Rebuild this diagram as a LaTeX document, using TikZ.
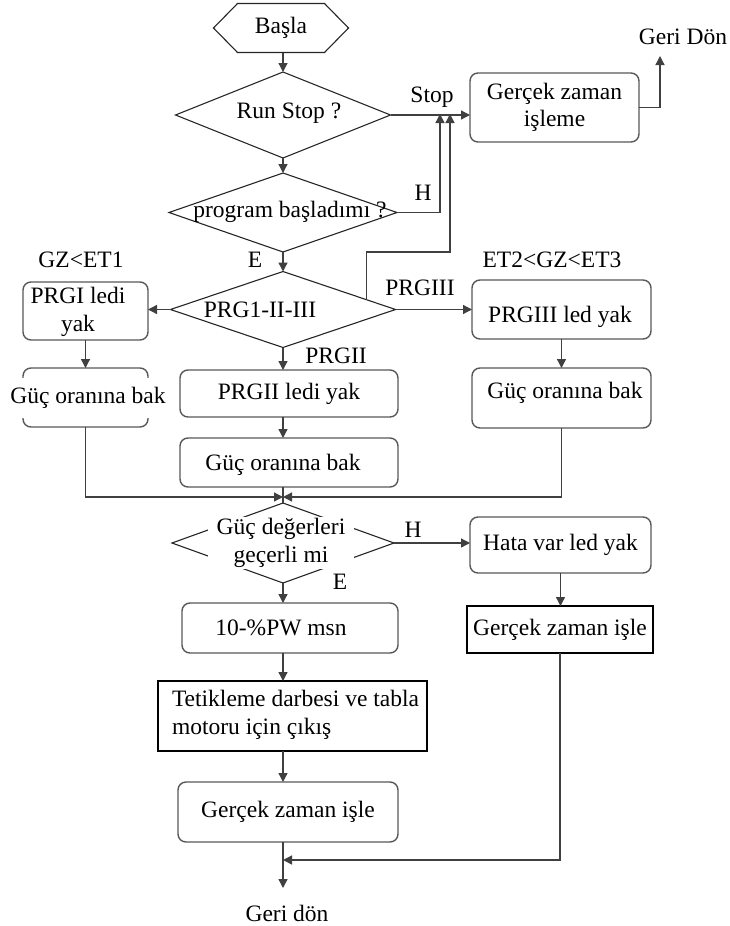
\documentclass[tikz,border=0pt]{standalone}
\usepackage{fontspec}
\setmainfont{Liberation Serif}
\usetikzlibrary{shapes.geometric,arrows.meta,calc}
\begin{document}
\begin{tikzpicture}[x=1pt,y=-1pt,
  every node/.style={font=\fontsize{23.5}{27.5}\selectfont, inner sep=0pt, outer sep=0pt},
  rbox/.style={draw=black!65, line width=1.4pt, rounded corners=8pt},
  sbox/.style={draw=black, line width=1.4pt},
  dia/.style={diamond, draw=black!85, line width=1.1pt},
  txt/.style={align=center},
  conn/.style={draw=black!75, line width=1.3pt},
  arr/.style={conn, -{Triangle[length=9pt,width=9pt]}},
]
\useasboundingbox[fill=white] (0,0) rectangle (729,926);

% start
\node[minimum width=135pt, minimum height=49pt] (basla) at (281,28) {Başla};
\draw[line width=1.1pt, draw=black!85] (basla.west) -- ($(basla.north west)+(24,0)$) -- ($(basla.north east)+(-24,0)$) -- (basla.east) -- ($(basla.south east)+(-24,0)$) -- ($(basla.south west)+(24,0)$) -- cycle;

% run stop
\node[dia, minimum width=215pt, minimum height=86pt] (runstop) at (283,115) {};
\node (runstopt) at (289,113) {Run Stop\hspace{6pt}?};

\node[rbox, txt, minimum width=169pt, minimum height=69pt] (gzi) at (554.5,107.5) {Gerçek zaman\\işleme};

% program started
\node[dia, minimum width=228pt, minimum height=79pt] (prog) at (283,212.5) {};
\node (progt) at (290,212) {program başladımı ?};

% PRG select
\node[dia, minimum width=225pt, minimum height=76pt] (prg) at (283,309.5) {};
\node (prgt) at (260,310) {PRG1-II-III};

\node[rbox, minimum width=125pt, minimum height=58pt] (prgi) at (85.5,311) {};
\node[txt] (prgit) at (78,312) {PRGI ledi\\yak};
\node[rbox, minimum width=179pt, minimum height=59pt] (prgiii) at (561.5,309.5) {};
\node (prgiiit) at (560,317) {PRGIII led yak};
\node[rbox, minimum width=218pt, minimum height=47pt] (prgii) at (289,393.5) {PRGII ledi yak};

\node[rbox, minimum width=125pt, minimum height=59pt] (guc1) at (85.5,397.5) {};
\node[fill=white, minimum height=40pt, inner xsep=1pt] (guc1t) at (88,398) {Güç oranına bak};
\node[rbox, minimum width=218pt, minimum height=49pt] (guc2) at (289,462.5) {};
\node (guc2t) at (283,465) {Güç oranına bak};
\node[rbox, minimum width=179pt, minimum height=60pt] (guc3) at (561.5,398) {};
\node (guc3t) at (565,393) {Güç oranına bak};

% power check
\node[dia, minimum width=222pt, minimum height=80pt] (gdiam) at (283,543) {};
\node[txt, fill=white, minimum width=146pt, minimum height=52pt] (gdiamt) at (281,543) {Güç değerleri\\geçerli mi};

\node[rbox, minimum width=181pt, minimum height=56pt] (hata) at (560.5,545) {Hata var led yak};
\node[sbox, minimum width=186pt, minimum height=47pt] (gzi2) at (560,629.5) {Gerçek zaman işle};

\node[rbox, minimum width=216pt, minimum height=50pt] (pw) at (290,628) {};
\node (pwt) at (281,628) {10-\%PW msn};

\node[sbox, minimum width=269pt, minimum height=70pt] (tet) at (292.5,716) {};
\node[align=left, anchor=west] (tett) at (172,715) {Tetikleme darbesi ve tabla\\motoru için çıkış};

\node[rbox, minimum width=220pt, minimum height=60pt] (gzi3) at (288,812) {Gerçek zaman işle};

% labels
\node (stopl) at (432,97) {Stop};
\node[anchor=east] (geridon1) at (727,37) {Geri Dön};
\node (hl1) at (423,193) {H};
\node (el1) at (255,260) {E};
\node (gzet1) at (81,260) {GZ<ET1};
\node (et2) at (552,260) {ET2<GZ<ET3};
\node (prgiiil) at (420,288) {PRGIII};
\node (prgiil) at (336,356) {PRGII};
\node (hl2) at (413,530) {H};
\node (el2) at (340,582) {E};
\node (geridon2) at (287,913) {Geri dön};

% coordinates
\coordinate (gdtip) at (660,56);
\coordinate (hin) at (440,114);
\coordinate (loopa) at ($(prg.north)!0.74!(prg.east)$);
\coordinate (loopc) at (450,252);
\coordinate (loopb) at (450,114);
\coordinate (mrg) at (283,497);
\coordinate (mrg2) at (283,860);
\coordinate (endp) at (283,888);

% connectors
\draw[arr] (runstop.north |- basla.south) -- (runstop.north);
\draw[arr] (runstop.east) -- (gzi.west |- runstop.east);
\draw[arr] (gzi.east) -| (gdtip);
\draw[arr] (runstop.south) -- (prog.north);
\draw[arr] (prog.east) -| (hin);
\draw[arr] (prog.south) -- (prg.north);
\draw[arr] (loopa) |- (loopc) -- (loopb);
\draw[arr] (prg.west) -- (prgi.east |- prg.west);
\draw[arr] (prg.east) -- (prgiii.west |- prg.east);
\draw[arr] (prg.south) -- (prg.south |- prgii.north);
\draw[arr] (prgi.south) -- (guc1.north);
\draw[arr] (prgiii.south) -- (guc3.north);
\draw[arr] (prg.south |- prgii.south) -- (prg.south |- guc2.north);
\draw[arr] (guc1.south) |- (mrg);
\draw[arr] (guc3.south) |- (mrg);
\draw[conn] (prg.south |- guc2.south) -- (gdiam.north);
\draw[arr] (gdiam.east) -- (hata.west |- gdiam.east);
\draw[arr] (gdiam.south) -- (gdiam.south |- pw.north);
\draw[arr] (gdiam.south |- pw.south) -- (gdiam.south |- tet.north);
\draw[arr] (gdiam.south |- tet.south) -- (gdiam.south |- gzi3.north);
\draw[arr] (gdiam.south |- gzi3.south) -- (endp);
\draw[arr] (hata.south) -- (hata.south |- gzi2.north);
\draw[arr] (gzi2.south) |- (mrg2);
\end{tikzpicture}
\end{document}
